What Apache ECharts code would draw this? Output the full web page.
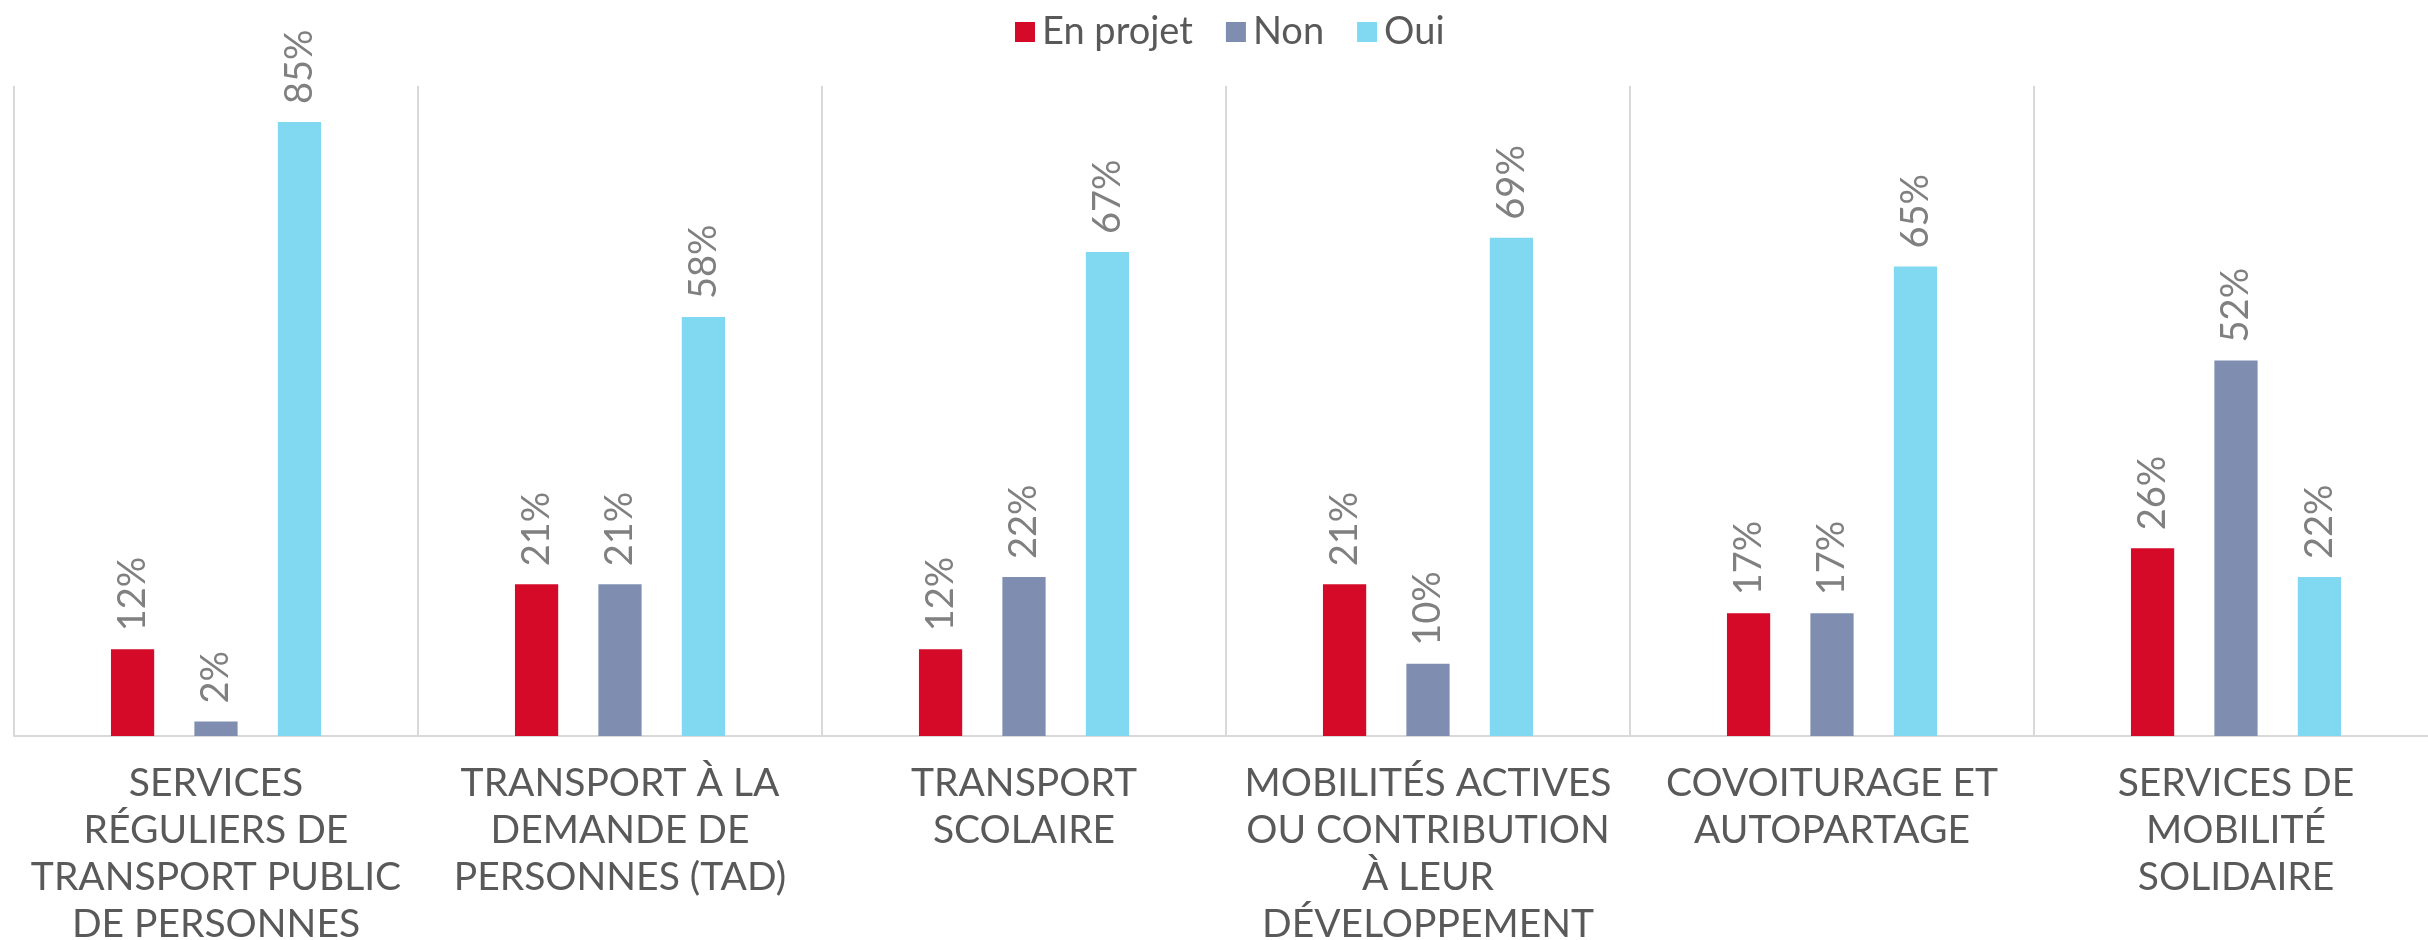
<!DOCTYPE html>
<html>
<head>
<meta charset="utf-8">
<title>Services de mobilité</title>
<script src="https://cdn.jsdelivr.net/npm/echarts@6/dist/echarts.min.js"></script>
<style>
  html, body { margin: 0; padding: 0; background: #ffffff; }
  #bar { width: 2428px; height: 940px; }
</style>
</head>
<body>
<div id="bar"></div>
<script>
// categories (line breaks as in the original)
var categories = [
    'SERVICES\nRÉGULIERS DE\nTRANSPORT PUBLIC\nDE PERSONNES',
    'TRANSPORT À LA\nDEMANDE DE\nPERSONNES (TAD)',
    'TRANSPORT\nSCOLAIRE',
    'MOBILITÉS ACTIVES\nOU CONTRIBUTION\nÀ LEUR\nDÉVELOPPEMENT',
    'COVOITURAGE ET\nAUTOPARTAGE',
    'SERVICES DE\nMOBILITÉ\nSOLIDAIRE'
];
var seriesNames = ['En projet', 'Non', 'Oui'];
var enProjet = [12, 21, 12, 21, 17, 26];
var non = [2, 21, 22, 10, 17, 52];
var oui = [85, 58, 67, 69, 65, 22];

var colors = ['#d50a28', '#7f8eb0', '#80d9f0'];
var fontName = 'Lato, "DejaVu Sans", sans-serif';

//标签
var labelStyle = {
    show: true,
    position: 'top',
    rotate: 90,
    align: 'left',
    verticalAlign: 'middle',
    distance: 18,
    formatter: '{c}%',
    color: '#808080',
    fontFamily: fontName,
    fontSize: 38
};

function makeSeries(name, values) {
    return {
        name: name,
        type: 'bar',
        data: values,
        barGap: '93%',
        barCategoryGap: '48%',
        label: labelStyle,
        silent: true
    };
}

var barChart = echarts.init(document.getElementById('bar'));
var option = {
    animation: false,
    color: colors,
    legend: {
        top: 8,
        left: 1010,
        itemWidth: 20,
        itemHeight: 20,
        itemGap: 33,
        icon: 'rect',
        data: seriesNames,
        textStyle: {
            color: '#595959',
            fontFamily: fontName,
            fontSize: 38,
            padding: [0, 0, 0, 2]
        }
    },
    grid: {
        left: 14,
        top: 86,
        width: 2424,
        bottom: 204,
        outerBoundsMode: 'none',
        containLabel: false
    },
    xAxis: {
        type: 'category',
        data: categories,
        axisTick: { show: false },
        axisLine: { lineStyle: { color: '#d9d9d9', width: 2 } },
        splitLine: {
            show: true,
            interval: 0,
            lineStyle: { color: '#d9d9d9', width: 2 }
        },
        axisLabel: {
            interval: 0,
            margin: 24,
            color: '#595959',
            fontFamily: fontName,
            fontSize: 39,
            lineHeight: 47
        }
    },
    yAxis: {
        type: 'value',
        min: 0,
        max: 90,
        show: false,
        splitLine: { show: false }
    },
    series: [
        makeSeries(seriesNames[0], enProjet),
        makeSeries(seriesNames[1], non),
        makeSeries(seriesNames[2], oui)
    ]
};
barChart.setOption(option);
</script>
</body>
</html>
